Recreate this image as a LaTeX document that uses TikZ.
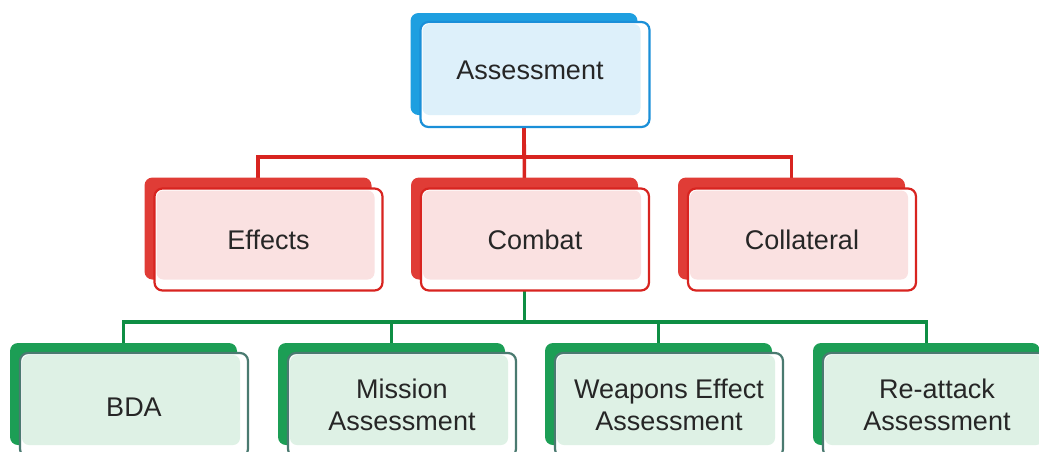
\documentclass[tikz,border=0pt]{standalone}
\usepackage{fontspec}
\setmainfont{Liberation Sans}
\usepackage{tikz}
\usetikzlibrary{positioning,calc,backgrounds}

\definecolor{bluedark}{HTML}{1E9FE0}
\definecolor{blueline}{HTML}{1A8FD8}
\definecolor{bluelight}{HTML}{DDF0FA}
\definecolor{reddark}{HTML}{E03C36}
\definecolor{redline}{HTML}{D82420}
\definecolor{redlight}{HTML}{FAE1E1}
\definecolor{greendark}{HTML}{1C9E55}
\definecolor{greenline}{HTML}{0E8E44}
\definecolor{greenlight}{HTML}{DEF1E5}
\definecolor{greyline}{HTML}{4A7A70}

\begin{document}
\begin{tikzpicture}[
        x=1pt, y=-1pt,
        back/.style={rounded corners=8pt, minimum width=227pt, minimum height=102pt,
            inner sep=0pt, outer sep=0pt},
        front/.style={rounded corners=8pt, fill=white, line width=2.2pt},
        light/.style={rounded corners=7pt},
        lbl/.style={font=\fontsize{27}{32}\selectfont, align=center, text=black!85},
        redbus/.style={redline, line width=3.5pt},
        greenbus/.style={greenline, line width=3.5pt},
    ]
    \useasboundingbox (0,0) rectangle (1039,451);
    \clip (0,0) rectangle (1039,451);
    % back boxes
    \node[back, fill=bluedark] (assess) at (524,64) {};
    \foreach \nm/\cx in {effects/258, combat/524.5, collateral/791.5}
        \node[back, fill=reddark] (\nm) at (\cx,228.5) {};
    \foreach \nm/\cx in {bda/123.5, mission/391.5, weapons/658.5, reattack/926.5}
        \node[back, fill=greendark] (\nm) at (\cx,394) {};
    % connectors
    \begin{scope}[on background layer]
        \draw[redbus] (assess.center) -- (assess.center |- 0,157) -| (effects.center);
        \draw[redbus] (assess.center |- 0,157) -| (collateral.center);
        \draw[redbus] (assess.center) -- (combat.center);
        \draw[greenbus] (combat.center) -- (combat.center |- 0,322) -| (bda.center);
        \draw[greenbus] (combat.center |- 0,322) -| (mission.center);
        \draw[greenbus] (combat.center |- 0,322) -| (weapons.center);
        \draw[greenbus] (combat.center |- 0,322) -| (reattack.center);
    \end{scope}
    % front cards
    \draw[front, draw=blueline] ([shift={(10,9)}]assess.north west) rectangle ([shift={(12,12)}]assess.south east);
    \fill[light, bluelight] ([shift={(12,11)}]assess.north west) rectangle ([shift={(3,0)}]assess.south east);
    \foreach \nm in {effects, combat, collateral} {
        \draw[front, draw=redline] ([shift={(10,11)}]\nm.north west) rectangle ([shift={(11,11)}]\nm.south east);
        \fill[light, redlight] ([shift={(12,13)}]\nm.north west) rectangle ([shift={(3,0)}]\nm.south east);
    }
    \foreach \nm in {bda, mission, weapons, reattack} {
        \draw[front, draw=greyline] ([shift={(10,10)}]\nm.north west) rectangle ([shift={(11,12)}]\nm.south east);
        \fill[light, greenlight] ([shift={(12,12)}]\nm.north west) rectangle ([shift={(3,0)}]\nm.south east);
    }
    % labels
    \node[lbl] (assesstxt) at ([shift={(6,6)}]assess.center) {Assessment};
    \node[lbl] (effectstxt) at ([shift={(10.5,11)}]effects.center) {Effects};
    \node[lbl] (combattxt) at ([shift={(10.5,11)}]combat.center) {Combat};
    \node[lbl] (collateraltxt) at ([shift={(10.5,11)}]collateral.center) {Collateral};
    \node[lbl] (bdatxt) at ([shift={(10.5,13)}]bda.center) {BDA};
    \node[lbl] (missiontxt) at ([shift={(10.5,11)}]mission.center) {Mission\\Assessment};
    \node[lbl] (weaponstxt) at ([shift={(10.5,11)}]weapons.center) {Weapons Effect\\Assessment};
    \node[lbl] (reattacktxt) at ([shift={(10.5,11)}]reattack.center) {Re-attack\\Assessment};
\end{tikzpicture}
\end{document}
